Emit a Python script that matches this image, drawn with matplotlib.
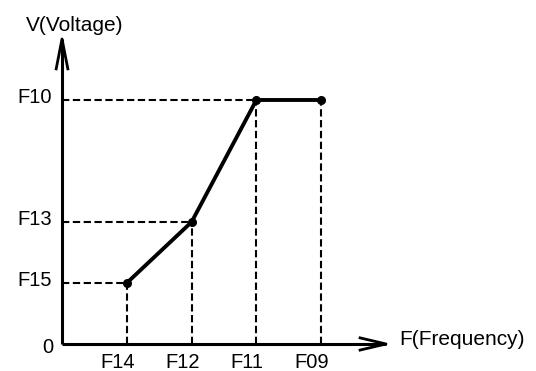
import matplotlib
matplotlib.use("Agg")
import matplotlib.pyplot as plt

# V/F curve points
freq_labels = ["F14", "F12", "F11", "F09"]
freq_pos = [1, 2, 3, 4]
volt_labels = ["F15", "F13", "F10", "F10"]
volt_pos = [1, 2, 4, 4]

axis_end = 5.0

plt.rcParams["font.family"] = ["Liberation Sans", "DejaVu Sans"]
fig = plt.figure(figsize=(5.36, 3.71), dpi=100)
ax = fig.add_axes([0, 0, 1, 1])
ax.set_xlim(-0.957, 7.315)
ax.set_ylim(-0.443, 5.639)
ax.axis("off")

dash = (0, (3.5, 1.7))
# dashed guides
for x, y in zip(freq_pos, volt_pos):
    ax.plot([x, x], [0, y], color="black", lw=1.5, ls=dash, zorder=1)
for i, (x, y) in enumerate(zip(freq_pos, volt_pos)):
    if i == 3:
        continue
    ax.plot([0, x], [y, y], color="black", lw=1.5, ls=dash, zorder=1)

# curve
ax.plot(freq_pos, volt_pos, color="black", lw=2.8, marker="o", ms=5.5, zorder=3)

# axes with open arrows
ax.plot([0, axis_end], [0, 0], color="black", lw=2.2, zorder=2, solid_capstyle="butt")
ax.plot([0, 0], [0, axis_end], color="black", lw=2.2, zorder=2, solid_capstyle="butt")
ax.plot([axis_end - 0.40, axis_end, axis_end - 0.40], [0.10, 0, -0.10],
        color="black", lw=2.0, zorder=2)
ax.plot([-0.09, 0, 0.09], [axis_end - 0.49, axis_end, axis_end - 0.49],
        color="black", lw=2.0, zorder=2)

# labels
fs = 14.5
for x, lab in zip(freq_pos, freq_labels):
    ax.text(x - 0.14, -0.30, lab, ha="center", va="center", fontsize=fs)
seen = set()
for y, lab in zip(volt_pos, volt_labels):
    if lab in seen:
        continue
    seen.add(lab)
    ax.text(-0.15, y + 0.04, lab, ha="right", va="center", fontsize=fs)
ax.text(-0.13, -0.05, "0", ha="right", va="center", fontsize=fs)
ax.text(0.2, 5.22, "V(Voltage)", ha="center", va="center", fontsize=15)
ax.text(5.2, 0.08, "F(Frequency)", ha="left", va="center", fontsize=15)

fig.savefig("out.png", dpi=100)
